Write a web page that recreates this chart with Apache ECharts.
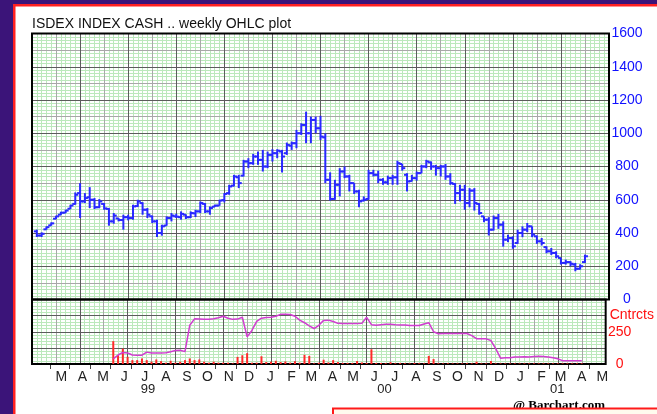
<!DOCTYPE html>
<html><head><meta charset="utf-8">
<script src="https://cdn.jsdelivr.net/npm/echarts@6/dist/echarts.min.js"></script>
<style>html,body{margin:0;padding:0;background:#fff}#c{width:657px;height:414px}</style>
</head><body><div id="c"></div>
<script>
// ---------------- data ----------------
const chartTitle = 'ISDEX INDEX CASH .. weekly OHLC plot';
const openP  = [410,385,422,446,486,510,522,546,575,640, 590,615,600,555,575,545,470,488,478,495, 490,562,580,540,500,470,400,445,490,500, 495,510,495,518,530,575,530,558,565,598, 640,685,735,745,830,820,860,840,800,870, 880,890,880,925,940,1000,1050,1000,1080,1030, 975,720,605,690,770,740,700,650,595,605, 760,750,720,705,730,735,815,750,712,730, 760,800,825,800,790,800,740,695,640,660, 580,655,575,500,480,420,490,450,360,370, 340,400,420,440,380,350,315,290,280,250, 220,225,210,185,225];
const highP  = [420,404,440,464,504,528,540,570,644,700, 640,676,610,604,580,550,520,490,510,510, 570,600,585,550,505,480,450,500,520,516, 530,512,530,540,590,580,560,570,600,640, 690,750,750,840,850,876,890,900,890,904, 904,900,944,950,1020,1060,1130,1100,1100,1105, 1000,765,720,790,800,750,700,660,620,780, 780,775,730,745,750,835,815,760,750,770, 810,840,830,810,810,815,760,700,690,690, 670,670,580,500,495,505,515,470,390,380, 420,440,460,440,385,370,320,310,290,250, 240,230,220,212,270];
const lowP   = [376,376,420,444,484,508,520,544,570,490, 580,550,544,550,540,444,456,470,420,476, 480,556,510,490,460,376,384,444,470,490, 480,484,490,496,520,520,510,556,564,584, 630,680,670,740,790,810,810,770,790,830, 850,764,870,900,910,990,940,940,1000,960, 700,595,600,620,730,650,635,555,590,600, 740,700,690,690,690,690,775,650,710,715, 760,790,780,745,740,720,690,575,590,540, 555,535,510,465,385,415,425,318,345,305, 335,375,405,375,335,325,278,268,248,210, 210,200,170,180,220];
const closeP = [385,395,435,458,500,522,535,565,630,590, 610,600,555,590,548,470,505,478,495,490, 560,590,540,510,470,400,440,490,505,498, 515,495,520,530,580,530,550,565,595,635, 680,740,700,830,820,860,840,800,870,880, 895,860,930,940,1000,1050,1000,1080,1030,980, 720,605,690,770,740,700,650,590,600,760, 750,720,705,730,735,820,790,710,730,760, 800,830,800,790,800,740,700,640,660,580, 655,580,520,480,420,490,450,360,370,320, 400,420,440,390,350,340,290,280,260,220, 225,215,185,200,260];
const volume = [null,null,null,null,null,null,null,null,null,null, null,null,null,null,null,null,177,68,119,56, 30,30,43,30,18,35,22,10,25,10, 18,30,43,30,35,18,10,18,10,10, 10,5,55,68,84,10,10,60,15,18, 25,15,20,10,22,10,71,63,5,10, 33,12,30,15,8,8,8,23,12,8, 114,8,8,6,14,6,8,6,5,8, 6,5,63,38,6,5,6,5,5,5, 6,5,18,5,5,23,5,5,5,5, 5,5,5,5,5,5,5,5,5,5, 5,5,5,5,5];
const openInt = [null,null,null,null,null,null,null,null,null,null, null,null,null,null,null,null,40,70,90,85, 70,68,68,92,86,86,86,88,95,104, 106,96,300,350,348,346,346,350,358,370, 355,346,348,362,210,260,330,355,360,362, 370,385,385,384,370,340,320,296,275,300, 338,340,330,315,313,313,313,313,315,362, 305,300,305,308,308,304,302,302,298,298, 298,310,320,250,235,237,237,237,237,237, 236,220,196,196,195,182,120,45,48,48, 55,55,56,55,58,60,58,55,48,40, 25,25,25,25,25];
const priceTickValues = [0,200,400,600,800,1000,1200,1400,1600];
const contractLabelValues = [0,250];
const contractAxisTitle = 'Cntrcts';
const monthLetters = ['J','F','M','A','M','J','J','A','S','O','N','D'];
const labelMonths = []; // [year, monthIndex] March 1999 .. May 2001
for (let y = 1999, m = 2; y < 2001 || (y === 2001 && m <= 4); m++) { if (m > 11) { m = 0; y++; } labelMonths.push([y, m]); }
const tickMonths = []; // Feb 1999 .. Apr 2001
for (let y = 1999, m = 1; y < 2001 || (y === 2001 && m <= 3); m++) { if (m > 11) { m = 0; y++; } tickMonths.push([y, m]); }
const yearLabels = ['99','00','01'];
const yearLabelDates = [[1999,6,6],[2000,5,16],[2001,1,24]];

// ---------------- helpers ----------------
const EPOCH = Date.UTC(1999, 0, 17);
const weekOf = (y, m, d) => (Date.UTC(y, m, d) - EPOCH) / (7 * 86400000);
const monthLabelValues = labelMonths.map(([y, m]) => weekOf(y, m, 1));
const monthTickValues = tickMonths.map(([y, m]) => weekOf(y, m, 12));
const yearLabelValues = yearLabelDates.map(([y, m, d]) => weekOf(y, m, d));
const findText = (vals, texts, v) => { for (let i = 0; i < vals.length; i++) if (Math.abs(vals[i] - v) < 1e-6) return texts[i]; return ''; };

const weekIndex = highP.map((_, i) => i + 1);
const ohlcData = weekIndex.map((k, i) => [k, openP[i], highP[i], lowP[i], closeP[i]]);
const volData = weekIndex.map((k, i) => [k, volume[i]]).filter(d => d[1] != null);
const oiData = weekIndex.map((k, i) => [k, openInt[i]]).filter(d => d[1] != null);

const GREEN = '#bce8bc', MID = '#a8a8a8', DARK = '#5c5c5c';
const FONT = 'Liberation Sans';
const hid = o => Object.assign({axisLine:{show:false}, axisTick:{show:false}, axisLabel:{show:false}}, o);

const xAxes = [];
[0, 1].forEach(g => {
  xAxes.push(hid({type:'value', gridIndex:g, min:0, max:120, interval:10, z:1, splitLine:{show:false},
    minorTick:{show:false, splitNumber:10}, minorSplitLine:{show:true, lineStyle:{color:GREEN, width:1}}}));
  xAxes.push(hid({type:'value', gridIndex:g, min:0, max:120, interval:5, z:2, splitLine:{show:true, lineStyle:{color:MID, width:1}}}));
  xAxes.push(hid({type:'value', gridIndex:g, min:0, max:120, interval:10, z:3, splitLine:{show:true, lineStyle:{color:DARK, width:1}}}));
});
// month letters + ticks (index 6)
xAxes.push({type:'value', gridIndex:1, min:0, max:120, position:'bottom', z:4,
  axisLine:{show:false}, splitLine:{show:false},
  axisTick:{show:true, customValues:monthTickValues, length:5, lineStyle:{color:'#444', width:1}},
  axisLabel:{show:true, customValues:monthLabelValues, margin:6, color:'#222', fontSize:14, fontFamily:FONT,
    formatter: v => findText(monthLabelValues, labelMonths.map(([y, m]) => monthLetters[m]), v)}});
// years (index 7)
xAxes.push({type:'value', gridIndex:1, min:0, max:120, position:'bottom', z:4,
  axisLine:{show:false}, splitLine:{show:false}, axisTick:{show:false},
  axisLabel:{show:true, customValues:yearLabelValues, margin:19, color:'#222', fontSize:13, fontFamily:FONT,
    formatter: v => findText(yearLabelValues, yearLabels, v)}});

const yAxes = [
  hid({type:'value', gridIndex:0, min:0, max:1600, interval:200, z:1, splitLine:{show:false},
    minorTick:{show:false, splitNumber:10}, minorSplitLine:{show:true, lineStyle:{color:GREEN, width:1}}}),
  hid({type:'value', gridIndex:0, min:0, max:1600, interval:100, z:2, splitLine:{show:true, lineStyle:{color:MID, width:1}}}),
  {type:'value', gridIndex:0, min:0, max:1600, interval:200, position:'right', z:3,
    axisLine:{show:false}, axisTick:{show:false}, splitLine:{show:true, lineStyle:{color:DARK, width:1}},
    axisLabel:{show:true, customValues:priceTickValues, align:'center', margin:18, color:'#1010ff', fontSize:14, fontFamily:FONT,
      formatter: v => String(v)}},
  hid({type:'value', gridIndex:1, min:0, max:500, interval:125, z:1, splitLine:{show:false},
    minorTick:{show:false, splitNumber:5}, minorSplitLine:{show:true, lineStyle:{color:GREEN, width:1}}}),
  {type:'value', gridIndex:1, min:0, max:500, interval:125, position:'right', z:3,
    axisLine:{show:false}, axisTick:{show:false}, splitLine:{show:true, lineStyle:{color:DARK, width:1}},
    axisLabel:{show:true, customValues:contractLabelValues, align:'center', margin:14, color:'#ff1010', fontSize:14, fontFamily:FONT,
      formatter: v => String(v)}},
  {type:'value', gridIndex:1, min:0, max:500, interval:125, position:'right', z:3,
    axisLine:{show:false}, axisTick:{show:false}, splitLine:{show:false},
    axisLabel:{show:true, customValues:[375], align:'left', margin:4, color:'#ff1010', fontSize:14, fontFamily:FONT,
      formatter: () => contractAxisTitle}}
];

const option = {
  backgroundColor:'#ffffff',
  animation:false,
  title:{text:chartTitle, left:32, top:17, padding:0,
    textStyle:{fontFamily:FONT, fontSize:14, fontWeight:'normal', color:'#111'}},
  grid:[
    {left:32, top:33.5, width:577, height:266, show:true, borderColor:'#000', borderWidth:2, backgroundColor:'transparent', z:5},
    {left:32, top:299.5, width:577, height:64.5, show:true, borderColor:'#000', borderWidth:2, backgroundColor:'transparent', z:5}
  ],
  xAxis:xAxes,
  yAxis:yAxes,
  series:[
    {type:'custom', xAxisIndex:2, yAxisIndex:2, z:10, data:ohlcData, encode:{x:0, y:[1,2,3,4]},
      renderItem:(params, api) => {
        const x = api.value(0);
        const pO = api.coord([x, api.value(1)]), pH = api.coord([x, api.value(2)]);
        const pL = api.coord([x, api.value(3)]), pC = api.coord([x, api.value(4)]);
        const st = {stroke:'#2828ff', lineWidth:2};
        return {type:'group', children:[
          {type:'line', shape:{x1:pH[0], y1:pH[1], x2:pL[0], y2:pL[1]}, style:st},
          {type:'line', shape:{x1:pO[0]-3, y1:pO[1], x2:pO[0], y2:pO[1]}, style:st},
          {type:'line', shape:{x1:pC[0], y1:pC[1], x2:pC[0]+3, y2:pC[1]}, style:st}
        ]};
      }},
    {type:'bar', xAxisIndex:6, yAxisIndex:4, z:10, data:volData, barWidth:2, itemStyle:{color:'#ff2a2a'}},
    {type:'line', xAxisIndex:6, yAxisIndex:4, z:11, data:oiData, symbol:'none', lineStyle:{color:'#d03cd0', width:1.5}}
  ],
  graphic:[
    {type:'rect', left:0, top:0, shape:{width:13, height:414}, style:{fill:'#3b1479'}, z:100},
    {type:'rect', left:0, top:0, shape:{width:657, height:4}, style:{fill:'#3b1479'}, z:100},
    {type:'rect', left:13, top:4, shape:{width:2.5, height:410}, style:{fill:'#ff2020'}, z:101},
    {type:'rect', left:13, top:4, shape:{width:644, height:2.5}, style:{fill:'#ff2020'}, z:101},
    {type:'text', left:513, top:399, style:{text:'@ Barchart.com', font:'bold 13px "Liberation Serif"', fill:'#000'}, z:100},
    {type:'rect', left:332, top:407.5, shape:{width:340, height:20}, style:{fill:'#fffbee', stroke:'#ff1a1a', lineWidth:2}, z:102}
  ]
};
const chart = echarts.init(document.getElementById('c'));
chart.setOption(option);
</script>
</body></html>
